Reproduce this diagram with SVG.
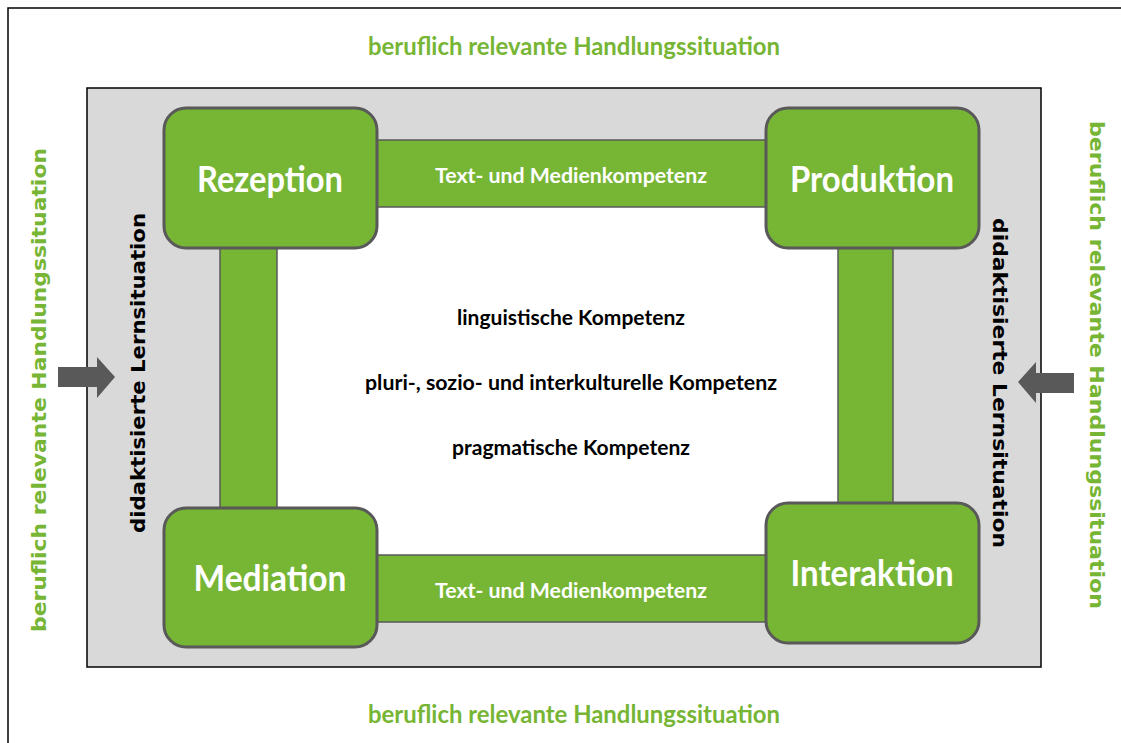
<svg xmlns="http://www.w3.org/2000/svg" width="1121" height="743" viewBox="0 0 1121 743">
<style>
.green{fill:#77b535;font-family:Lato,"Liberation Sans",sans-serif;font-weight:bold;font-size:24px;text-anchor:middle}
.side{fill:#77b535;font-family:"DejaVu Sans","Liberation Sans",sans-serif;font-weight:bold;font-size:20px;text-anchor:middle}
.did{fill:#000;font-family:"DejaVu Sans","Liberation Sans",sans-serif;font-weight:bold;font-size:19px;text-anchor:middle}
.box{fill:#77b535;stroke:#595959;stroke-width:3}
.bar{fill:#77b535;stroke:#595959;stroke-width:1.5}
.title{fill:#fff;font-family:Lato,"Liberation Sans",sans-serif;font-weight:bold;font-size:37px;text-anchor:middle}
.bartxt{fill:#fff;font-family:Lato,"Liberation Sans",sans-serif;font-weight:bold;font-size:21px;text-anchor:middle}
.center{fill:#000;font-family:Lato,"Liberation Sans",sans-serif;font-weight:bold;font-size:21px;text-anchor:middle}
.arrow{fill:#595959}
</style>
<rect x="0" y="0" width="1121" height="743" fill="#fff"/>
<rect x="8" y="8" width="1140" height="780" fill="none" stroke="#000" stroke-width="1.5"/>
<rect id="frame" x="87" y="88" width="954" height="579" fill="#d9d9d9" stroke="#000" stroke-width="1.5"/>
<rect x="277" y="207" width="561" height="348" fill="#fff"/>
<text class="green" x="574" y="55" textLength="412" lengthAdjust="spacingAndGlyphs">beruflich relevante Handlungssituation</text>
<text class="green" x="574" y="723" textLength="412" lengthAdjust="spacingAndGlyphs">beruflich relevante Handlungssituation</text>
<text class="side" transform="translate(46,390) rotate(-90)" textLength="484" lengthAdjust="spacingAndGlyphs">beruflich relevante Handlungssituation</text>
<text class="side" transform="translate(1090,365) rotate(90)" textLength="488" lengthAdjust="spacingAndGlyphs">beruflich relevante Handlungssituation</text>
<text class="did" transform="translate(145,373) rotate(-90)" textLength="320" lengthAdjust="spacingAndGlyphs">didaktisierte Lernsituation</text>
<text class="did" transform="translate(993,383) rotate(90)" textLength="330" lengthAdjust="spacingAndGlyphs">didaktisierte Lernsituation</text>
<g id="connectors">
<rect class="bar" x="300" y="140" width="540" height="67"/>
<rect class="bar" x="300" y="555" width="540" height="67"/>
<rect class="bar" x="220" y="200" width="57" height="360"/>
<rect class="bar" x="838" y="200" width="55" height="360"/>
<text class="bartxt" x="571" y="183" textLength="272" lengthAdjust="spacingAndGlyphs">Text- und Medienkompetenz</text>
<text class="bartxt" x="571" y="598" textLength="272" lengthAdjust="spacingAndGlyphs">Text- und Medienkompetenz</text>
<polygon class="arrow" points="58,367 97,367 97,357 115,377 97,398 97,387 58,387"/>
<polygon class="arrow" points="1074,373 1036,373 1036,362 1018,382 1036,403 1036,393 1074,393"/>
</g>
<g id="rezeption">
<rect class="box" x="164" y="108" width="213" height="140" rx="22"/>
<text class="title" x="270" y="192" textLength="146" lengthAdjust="spacingAndGlyphs">Rezeption</text>
</g>
<g id="produktion">
<rect class="box" x="766" y="108" width="213" height="140" rx="22"/>
<text class="title" x="872" y="192" textLength="164" lengthAdjust="spacingAndGlyphs">Produktion</text>
</g>
<g id="mediation">
<rect class="box" x="164" y="508" width="213" height="139" rx="22"/>
<text class="title" x="270" y="591" textLength="153" lengthAdjust="spacingAndGlyphs">Mediation</text>
</g>
<g id="interaktion">
<rect class="box" x="766" y="503" width="213" height="140" rx="22"/>
<text class="title" x="872" y="586" textLength="163" lengthAdjust="spacingAndGlyphs">Interaktion</text>
</g>
<g id="center">
<text class="center" x="571" y="325" textLength="228" lengthAdjust="spacingAndGlyphs">linguistische Kompetenz</text>
<text class="center" x="571" y="390" textLength="412" lengthAdjust="spacingAndGlyphs">pluri-, sozio- und interkulturelle Kompetenz</text>
<text class="center" x="571" y="455" textLength="238" lengthAdjust="spacingAndGlyphs">pragmatische Kompetenz</text>
</g>
</svg>
